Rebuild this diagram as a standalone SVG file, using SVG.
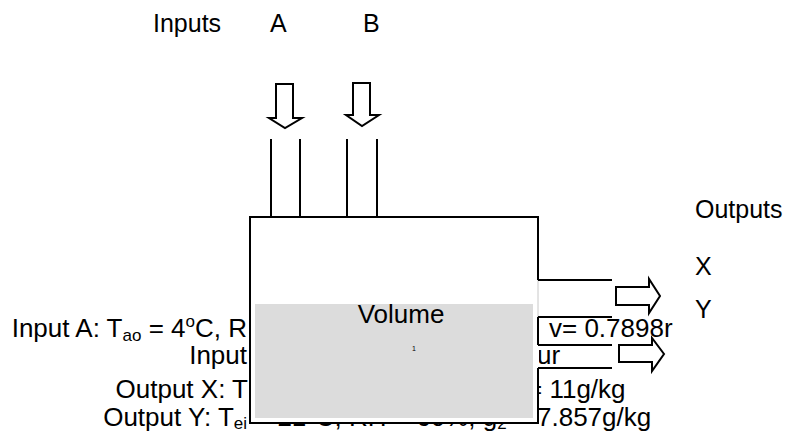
<svg xmlns="http://www.w3.org/2000/svg" width="788" height="432" viewBox="0 0 788 432">
<style>
  text { font-family: "Liberation Sans", Arial, sans-serif; font-size: 26px; fill: #000; }
  .lbl { font-size: 25px; }
  .ln { stroke: #000; stroke-width: 2; fill: none; }
  .arr { stroke: #000; stroke-width: 2; fill: #fff; stroke-linejoin: miter; }
  .sub { font-size: 17px; }
  .tiny { font-size: 7px; }
</style>
<defs>
  <clipPath id="rightClip"><rect x="539" y="300" width="134" height="132"/></clipPath>
</defs>
<rect width="788" height="432" fill="#fff"/>

<g id="labels">
  <text class="lbl" x="153" y="32">Inputs</text>
  <text class="lbl" x="270" y="32">A</text>
  <text class="lbl" x="363" y="32">B</text>
  <text class="lbl" x="695" y="218">Outputs</text>
  <text class="lbl" x="695" y="275">X</text>
  <text class="lbl" x="695" y="318">Y</text>
</g>

<g id="left-text">
  <text x="247" y="337" text-anchor="end">Input A: T<tspan class="sub" dy="4">ao</tspan><tspan dy="-4"> = 4</tspan><tspan class="sub" dy="-10">o</tspan><tspan dy="10">C, R</tspan></text>
  <text x="247" y="364" text-anchor="end">Input</text>
  <text x="248" y="398" text-anchor="end">Output X: T</text>
  <text x="247" y="426" text-anchor="end">Output Y: T<tspan class="sub" dy="3">ei</tspan></text>
  <text x="255" y="426">= 21<tspan class="sub" dy="-10">o</tspan><tspan dy="10">C, RH = 60%, g</tspan><tspan class="sub" dy="3">2</tspan><tspan dy="-3"> =</tspan></text>
</g>

<g id="right-text" clip-path="url(#rightClip)">
  <text x="549" y="337">v= 0.7898r</text>
  <text x="537" y="364">ur</text>
  <text x="527" y="398">= 11g/kg</text>
  <text x="537" y="426">7.857g/kg</text>
</g>

<g id="tank">
  <rect x="250" y="217" width="288" height="206" fill="#fff"/>
  <rect x="255" y="304" width="278" height="114" fill="#dcdcdc"/>
  <path class="ln" d="M250 217 H538 M250 216 V424 M249 423 H538 M538 216 V280 M538 317 V345 M538 368 V424"/>
  <line x1="538" y1="280" x2="538" y2="317" stroke="#c8c8c8" stroke-width="1"/>
  <text x="401" y="323" text-anchor="middle">Volume</text>
  <text class="tiny" x="414" y="351" text-anchor="middle">1</text>
</g>

<g id="connectors">
  <path class="ln" d="M271 139 V217 M300 139 V217 M347 139 V217 M377 139 V217"/>
  <path class="ln" d="M538 280 H612 M538 317 H612 M538 345 H612 M538 368 H612"/>
</g>

<g id="input-arrow-a">
  <polygon class="arr" points="276,84 293,84 293,118 302,118 285,128 269,118 276,118"/>
</g>
<g id="input-arrow-b">
  <polygon class="arr" points="353,83 370,83 370,115 379,115 362,126 346,115 353,115"/>
</g>
<g id="output-arrow-x">
  <polygon class="arr" points="616,287 649,287 649,279 660,296 649,313 649,305 616,305"/>
</g>
<g id="output-arrow-y">
  <polygon class="arr" points="619,345 652,345 652,338 664,354 652,371 652,362 619,362"/>
</g>
</svg>
